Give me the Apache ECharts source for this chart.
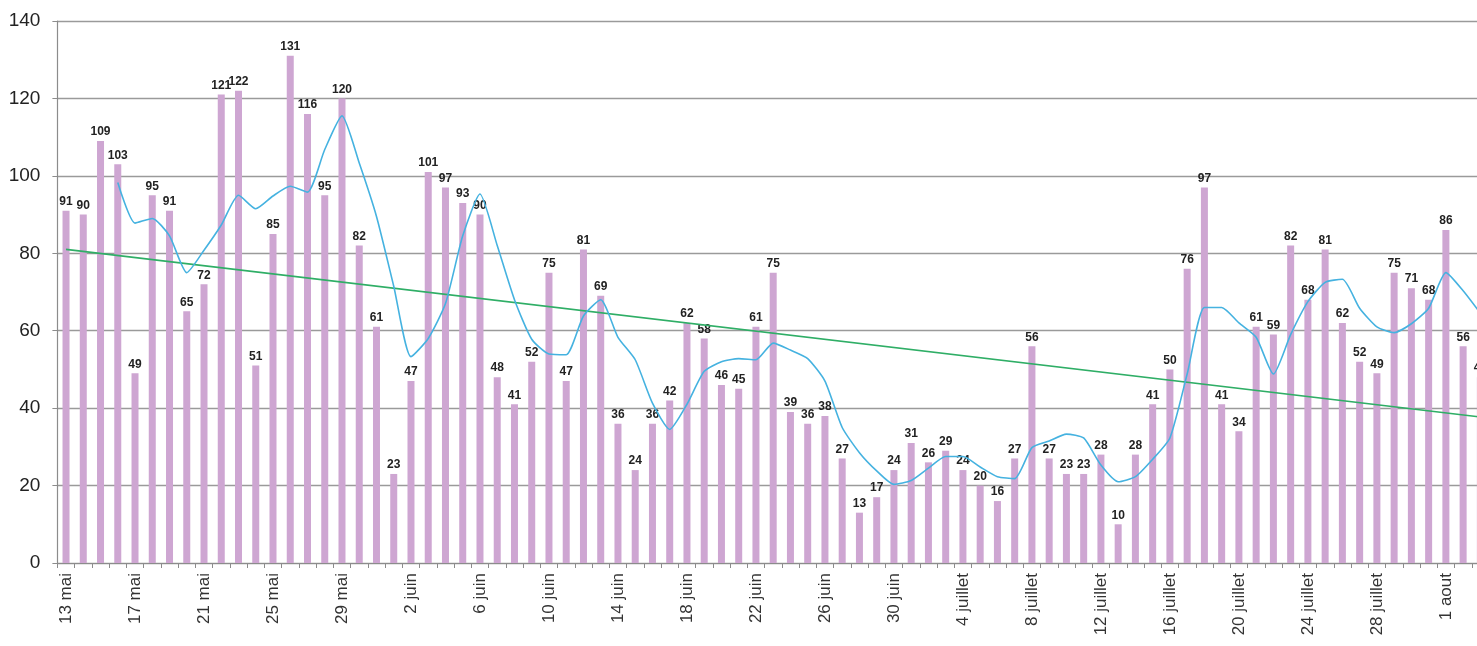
<!DOCTYPE html>
<html>
<head>
<meta charset="utf-8">
<script src="https://cdn.jsdelivr.net/npm/echarts@6/dist/echarts.min.js"></script>
<style>
  html, body { margin: 0; padding: 0; background: #fff; overflow: hidden; }
  /* le graphique d'origine est coupé à droite : le conteneur déborde un peu */
  #chart { width: 1489px; height: 646px; }
</style>
</head>
<body>
<div id="chart"></div>
<script>
// jours affichés (13 mai -> 3 aout)
var days = [
    '13 mai','14 mai','15 mai','16 mai','17 mai','18 mai','19 mai','20 mai','21 mai','22 mai',
    '23 mai','24 mai','25 mai','26 mai','27 mai','28 mai','29 mai','30 mai','31 mai',
    '1 juin','2 juin','3 juin','4 juin','5 juin','6 juin','7 juin','8 juin','9 juin','10 juin',
    '11 juin','12 juin','13 juin','14 juin','15 juin','16 juin','17 juin','18 juin','19 juin','20 juin',
    '21 juin','22 juin','23 juin','24 juin','25 juin','26 juin','27 juin','28 juin','29 juin','30 juin',
    '1 juillet','2 juillet','3 juillet','4 juillet','5 juillet','6 juillet','7 juillet','8 juillet',
    '9 juillet','10 juillet','11 juillet','12 juillet','13 juillet','14 juillet','15 juillet','16 juillet',
    '17 juillet','18 juillet','19 juillet','20 juillet','21 juillet','22 juillet','23 juillet','24 juillet',
    '25 juillet','26 juillet','27 juillet','28 juillet','29 juillet','30 juillet','31 juillet',
    '1 aout','2 aout','3 aout'
];

// valeurs journalières (barres)
var daily = [
    91, 90, 109, 103, 49, 95, 91, 65, 72, 121, 122, 51, 85, 131, 116, 95, 120, 82, 61,
    23, 47, 101, 97, 93, 90, 48, 41, 52, 75, 47, 81, 69, 36, 24, 36, 42, 62, 58, 46, 45,
    61, 75, 39, 36, 38, 27, 13, 17, 24,
    31, 26, 29, 24, 20, 16, 27, 56, 27, 23, 23, 28, 10, 28, 41, 50, 76, 97, 41, 34, 61,
    59, 82, 68, 81, 62, 52, 49, 75, 71, 68,
    86, 56, 48
];

// moyenne mobile (courbe bleue)
var movingAvg = [
    null, null, null, 98.3, 87.8, 89, 84.5, 75, 80.8, 87.3, 95, 91.5, 94.8, 97.3, 95.8, 106.8, 115.5, 103.3, 89.5,
    71.5, 53.3, 58, 67, 84.5, 95.3, 82, 68, 57.8, 54, 53.8, 63.8, 68, 58.3, 52.5, 41.3, 34.5, 41, 49.5, 52, 52.8,
    52.5, 56.8, 55, 52.8, 47, 35, 28.5, 23.8, 20.3,
    21.3, 24.5, 27.5, 27.5, 24.8, 22.3, 21.8, 29.8, 31.5, 33.3, 32.3, 25.3, 21, 22.3, 26.8, 32.3, 48.8, 66, 66, 62, 58.3,
    48.8, 59, 67.5, 72.5, 73.3, 65.8, 61, 59.5, 61.8, 65.8,
    75, 70.3, 64.5
];

// tendance linéaire (ligne verte) : extrémités
var trendStart = ['13 mai', 81];
var trendEnd = ['3 aout', 37.7];

var yTicks = { min: 0, max: 140, step: 20 };

var chart = echarts.init(document.getElementById('chart'));

var option = {
    animation: false,
    backgroundColor: '#ffffff',
    grid: {
        left: 57.4,
        right: 0,
        top: 21,
        bottom: 83,
        containLabel: false
    },
    xAxis: {
        type: 'category',
        data: days,
        boundaryGap: true,
        axisLine: { lineStyle: { color: '#8c8c8c', width: 1.2 } },
        axisTick: { show: true, interval: 0, length: 5, lineStyle: { color: '#8c8c8c' } },
        axisLabel: {
            interval: 3,
            rotate: 90,
            margin: 10,
            fontFamily: 'Liberation Sans, Arial, sans-serif',
            fontSize: 17,
            color: '#333'
        },
        splitLine: { show: false }
    },
    yAxis: {
        type: 'value',
        min: yTicks.min,
        max: yTicks.max,
        interval: yTicks.step,
        axisLine: { show: true, lineStyle: { color: '#8c8c8c', width: 1.2 } },
        axisTick: { show: true, length: 5, lineStyle: { color: '#8c8c8c' } },
        axisLabel: {
            margin: 17,
            fontFamily: 'Liberation Sans, Arial, sans-serif',
            fontSize: 19,
            color: '#222'
        },
        splitLine: { show: true, lineStyle: { color: '#9a9a9a', width: 1.3 } }
    },
    series: [
        {
            name: 'jour',
            type: 'bar',
            data: daily,
            barWidth: 7,
            itemStyle: { color: '#cea6d2' },
            label: {
                show: true,
                position: 'top',
                distance: 3,
                fontFamily: 'Liberation Sans, Arial, sans-serif',
                fontWeight: 'bold',
                fontSize: 12,
                color: '#222'
            },
            z: 2
        },
        {
            name: 'moyenne',
            type: 'line',
            data: movingAvg,
            smooth: 0.2,
            showSymbol: false,
            lineStyle: { color: '#45b2e0', width: 1.6 },
            z: 4
        },
        {
            name: 'tendance',
            type: 'line',
            data: [trendStart, trendEnd],
            showSymbol: false,
            lineStyle: { color: '#2fae66', width: 1.6 },
            z: 3
        }
    ]
};

chart.setOption(option);
</script>
</body>
</html>
